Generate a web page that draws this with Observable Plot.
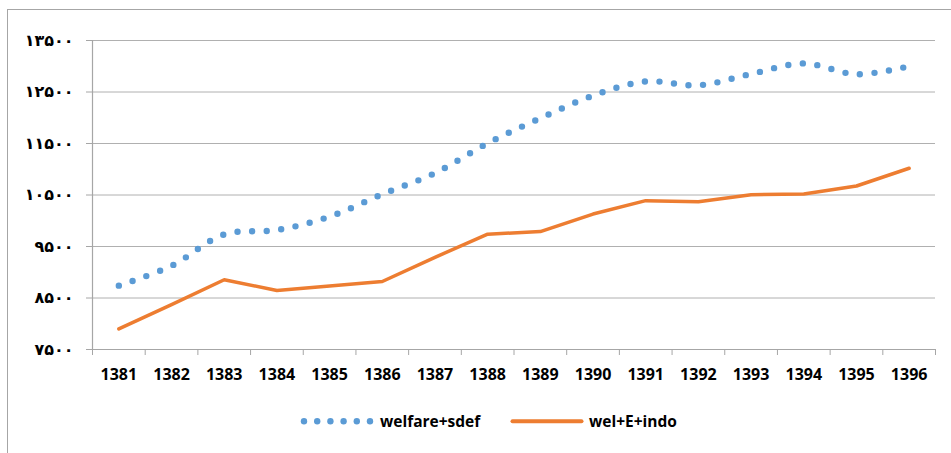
<!DOCTYPE html>
<html><head><meta charset="utf-8">
<script src="https://cdn.jsdelivr.net/npm/d3@7"></script>
<script src="https://cdn.jsdelivr.net/npm/@observablehq/plot@0.6"></script>
<style>
body{margin:0;background:#fff;}
#wrap{position:relative;width:951px;height:453px;overflow:hidden;font-family:"Open Sans",sans-serif;}
#frame{position:absolute;left:7px;top:9px;width:1000px;height:1000px;border:1.5px solid #a6a6a6;box-sizing:border-box;}
#chart{position:absolute;left:0;top:0;}
#legend{position:absolute;left:0;top:400px;width:951px;height:53px;font-weight:bold;font-size:15.5px;color:#000;}
.lg{position:absolute;}
</style></head>
<body>
<div id="wrap">
  <div id="frame"></div>
  <div id="chart"></div>
  <div id="legend">
    <svg class="lg" style="left:298px;top:14px" width="80" height="16">
      <g id="dotsSym" fill="#5B9BD5"></g>
    </svg>
    <span class="lg" style="left:380px;top:10px">welfare+sdef</span>
    <svg class="lg" style="left:510px;top:14px" width="76" height="16">
      <line x1="2.5" x2="71.5" y1="7.3" y2="7.3" stroke="#ED7D31" stroke-width="4" stroke-linecap="round"/>
    </svg>
    <span class="lg" style="left:589px;top:10px">wel+E+indo</span>
  </div>
</div>
<script>
const years = [1381,1382,1383,1384,1385,1386,1387,1388,1389,1390,1391,1392,1393,1394,1395,1396];
const welfareSdef = [8740, 9125, 9735, 9820, 10080, 10515, 10925, 11505, 11990, 12430, 12705, 12630, 12850, 13055, 12845, 13000];
const welEIndo = [7900, 8370, 8855, 8645, 8735, 8820, 9290, 9740, 9790, 10130, 10390, 10370, 10505, 10520, 10675, 11020];
const yTicks = [7500, 8500, 9500, 10500, 11500, 12500, 13500];
const yTickLabels = ["۷۵۰۰","۸۵۰۰","۹۵۰۰","۱۰۵۰۰","۱۱۵۰۰","۱۲۵۰۰","۱۳۵۰۰"];
const seriesNames = ["welfare+sdef", "wel+E+indo"];

const idx = years.map((d, i) => i);
const boundaries = [-0.5, ...idx.map(i => i + 0.5)];
const rowsA = idx.map(i => ({i, v: welfareSdef[i], s: seriesNames[0]}));
const rowsB = idx.map(i => ({i, v: welEIndo[i], s: seriesNames[1]}));

const plot = Plot.plot({
  width: 951, height: 400,
  marginLeft: 92, marginRight: 16, marginTop: 40, marginBottom: 51,
  x: {type: "linear", domain: [-0.5, 15.5]},
  y: {domain: [7500, 13500]},
  style: {fontFamily: "'Open Sans', sans-serif", fontSize: "16px", fontWeight: "bold", color: "#000", background: "transparent", overflow: "visible"},
  marks: [
    Plot.ruleY(yTicks.slice(1), {stroke: "#b0b0b0", strokeWidth: 1}),
    Plot.ruleY([7500], {stroke: "#a6a6a6", strokeWidth: 1.2}),
    Plot.ruleX([-0.5], {stroke: "#a6a6a6", strokeWidth: 1.2}),
    Plot.axisY({ticks: yTicks, label: null, tickFormat: d => yTickLabels[yTicks.indexOf(d)], tickSize: 6, tickPadding: 13,
      stroke: "#a6a6a6", fontFamily: "DejaVu Sans", fontSize: 16, fontWeight: "bold", fill: "#000"}),
    Plot.axisX({ticks: boundaries, label: null, tickSize: 6, tickFormat: () => "", stroke: "#a6a6a6"}),
    Plot.axisX({ticks: idx, label: null, tickSize: 0, tickPadding: 19, tickFormat: i => String(years[i]), fill: "#000", fontSize: 16}),
    Plot.line(rowsB, {x: "i", y: "v", stroke: "#ED7D31", strokeWidth: 3.5}),
    Plot.line(rowsA, {x: "i", y: "v", stroke: "#5B9BD5", strokeWidth: 6.4, strokeDasharray: "0 14.6", strokeLinecap: "round", curve: "catmull-rom"})
  ]
});
document.getElementById("chart").appendChild(plot);

const g = document.getElementById("dotsSym");
for (let k = 0; k < 6; k++) {
  const c = document.createElementNS("http://www.w3.org/2000/svg", "circle");
  c.setAttribute("cx", 6 + k * 13.2);
  c.setAttribute("cy", 7.3);
  c.setAttribute("r", 3.2);
  g.appendChild(c);
}
</script>
</body></html>
